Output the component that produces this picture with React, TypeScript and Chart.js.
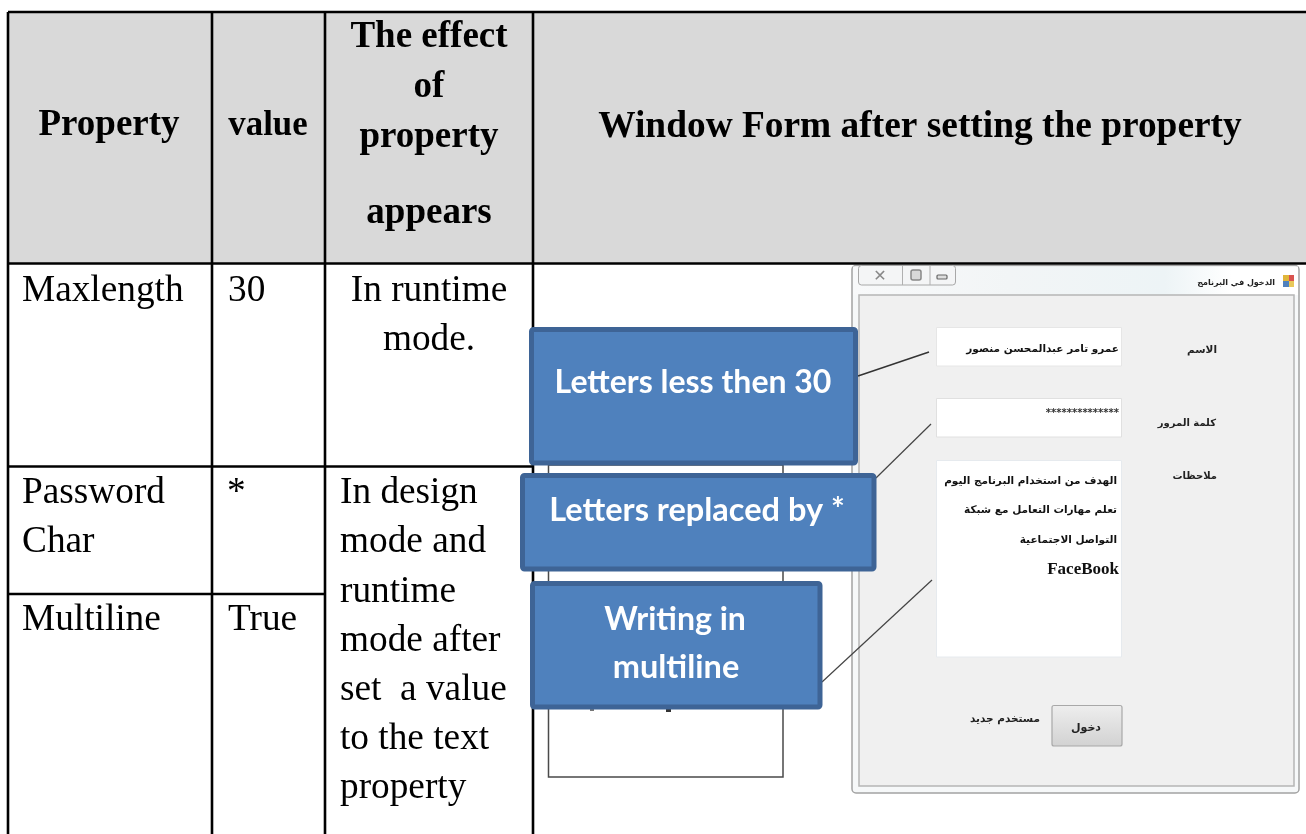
import React, { useEffect, useRef } from "react";
import { Chart, registerables } from "chart.js";

Chart.register(...registerables);

// ---- content ----
const headerProperty = "Property";
const headerValue = "value";
const headerEffect = ["The effect", "of", "property", "appears"];
const headerForm = "Window Form after setting the property";
const rowProperties = ["Maxlength", "Password", "Char", "Multiline"];
const rowValues = ["30", "*", "True"];
const effectRuntime = ["In runtime", "mode."];
const effectDesign = ["In design", "mode and", "runtime", "mode after", "set  a value", "to the text", "property"];
const calloutLabels = ["Letters less then 30", "Letters replaced by *", "Writing in", "multiline"];
const formTitle = "الدخول في البرنامج";
const formLabels = ["الاسم", "كلمة المرور", "ملاحظات"];
const formName = "عمرو تامر عبدالمحسن منصور";
const formPassword = "**************";
const formNotes = ["الهدف من استخدام البرنامج اليوم", "تعلم مهارات التعامل مع شبكة", "التواصل الاجتماعية", "FaceBook"];
const formNewUser = "مستخدم جديد";
const formLogin = "دخول";

const SERIF = '"Liberation Serif", serif';
const CALLOUT = 'Lato, "Open Sans", sans-serif';
const ARABIC = '"DejaVu Sans", sans-serif';

const tablePlugin = {
  id: "tablePlugin",
  afterDraw(chart: any) {
    const c: CanvasRenderingContext2D = chart.ctx;
    const X = (v: number) => chart.scales.x.getPixelForValue(v);
    const Y = (v: number) => chart.scales.y.getPixelForValue(v);

    const fillRect = (x0: number, y0: number, x1: number, y1: number, color: string) => {
      c.fillStyle = color;
      c.fillRect(X(x0), Y(y0), X(x1) - X(x0), Y(y1) - Y(y0));
    };
    const line = (x0: number, y0: number, x1: number, y1: number, color: string, w: number) => {
      c.strokeStyle = color;
      c.lineWidth = w;
      c.beginPath();
      c.moveTo(X(x0), Y(y0));
      c.lineTo(X(x1), Y(y1));
      c.stroke();
    };
    const box = (x0: number, y0: number, x1: number, y1: number, fill: any, stroke: string, w: number, r = 0) => {
      c.beginPath();
      c.roundRect(X(x0), Y(y0), X(x1) - X(x0), Y(y1) - Y(y0), r);
      c.fillStyle = fill;
      c.fill();
      c.strokeStyle = stroke;
      c.lineWidth = w;
      c.stroke();
    };
    const text = (
      s: string, x: number, y: number, font: string, color = "#000",
      align: CanvasTextAlign = "left", rtl = false,
    ) => {
      c.font = font;
      c.fillStyle = color;
      c.textAlign = align;
      c.textBaseline = "alphabetic";
      (c as any).direction = rtl ? "rtl" : "ltr";
      c.fillText(s, X(x), Y(y));
      (c as any).direction = "ltr";
    };

    c.save();

    // header band
    fillRect(8, 12, 1306, 263, "#d9d9d9");

    // underlying blank window frame
    box(548.5, 465, 783, 777, "#ffffff", "#4a4a4a", 1.5);
    fillRect(590, 709, 594, 711, "#777");
    fillRect(666, 709, 671, 712, "#333");

    // form window
    box(852, 265.5, 1299, 793, "#f6f8f9", "#a3a3a3", 1.5, 4);
    const titleGrad = c.createLinearGradient(X(852), 0, X(1299), 0);
    titleGrad.addColorStop(0, "#f8f9fa");
    titleGrad.addColorStop(0.35, "#f2f5f6");
    titleGrad.addColorStop(0.7, "#edf4f6");
    titleGrad.addColorStop(0.85, "#ffffff");
    titleGrad.addColorStop(1, "#ffffff");
    c.fillStyle = titleGrad;
    c.fillRect(X(853), Y(266.5), X(1298) - X(853), Y(295) - Y(266.5));
    box(859, 295, 1294, 786, "#f0f0f0", "#b5b5b5", 1.5);
    box(858.5, 265.5, 955.5, 285, "#f4f5f6", "#a8a8a8", 1, 3);
    line(902.5, 266, 902.5, 285, "#b0b0b0", 1);
    line(930, 266, 930, 285, "#b0b0b0", 1);
    text("✕", 880, 281, `bold 16px ${ARABIC}`, "#888", "center");
    box(911, 270, 921, 280, "#d8d8d8", "#888", 1.5, 2);
    box(937, 275, 947, 279, "#dddddd", "#666", 1.2, 1);
    fillRect(1283, 275, 1289, 281, "#e0b63a");
    fillRect(1289, 275, 1294, 281, "#d9534f");
    fillRect(1283, 281, 1289, 287, "#4f81bd");
    fillRect(1289, 281, 1294, 287, "#e8c85a");
    text(formTitle, 1275, 285, `bold 8px ${ARABIC}`, "#222", "right", true);

    // form fields
    box(936.5, 327.5, 1121.5, 366, "#ffffff", "#e6e6e6", 1);
    box(936.5, 398.5, 1121.5, 437, "#ffffff", "#e0e0e0", 1);
    box(936.5, 460.5, 1121.5, 657, "#ffffff", "#e6eaee", 1);
    text(formLabels[0], 1217, 353, `bold 10.5px ${ARABIC}`, "#222", "right", true);
    text(formLabels[1], 1216, 426, `bold 10px ${ARABIC}`, "#222", "right", true);
    text(formLabels[2], 1217, 479, `bold 10px ${ARABIC}`, "#222", "right", true);
    text(formName, 1119, 352, `bold 10.5px ${ARABIC}`, "#111", "right", true);
    text(formPassword, 1119, 415.5, `bold 10px ${ARABIC}`, "#333", "right");
    text(formNotes[0], 1117, 484, `bold 10.5px ${ARABIC}`, "#111", "right", true);
    text(formNotes[1], 1117, 513, `bold 10.5px ${ARABIC}`, "#111", "right", true);
    text(formNotes[2], 1117, 543, `bold 10.5px ${ARABIC}`, "#111", "right", true);
    text(formNotes[3], 1119, 574, `bold 17px ${SERIF}`, "#111", "right");
    text(formNewUser, 1040, 722, `bold 10.5px ${ARABIC}`, "#222", "right", true);
    const btnGrad = c.createLinearGradient(0, Y(705), 0, Y(746));
    btnGrad.addColorStop(0, "#eeeeee");
    btnGrad.addColorStop(1, "#d2d2d2");
    box(1052, 705.5, 1122, 746, btnGrad, "#a8a8a8", 1.2, 2);
    text(formLogin, 1086, 731, `bold 11px ${ARABIC}`, "#222", "center", true);

    // table rules
    const ruleColor = "#000";
    const rule = 2.6;
    line(8, 12, 1306, 12, ruleColor, rule);
    line(8, 263.5, 1306, 263.5, ruleColor, rule);
    for (const x of [8, 212, 325, 533]) {
      line(x, 12, x, 834, ruleColor, rule);
    }
    line(8, 466.5, 533, 466.5, ruleColor, rule);
    line(8, 594, 325, 594, ruleColor, rule);

    // leader lines
    line(858, 376, 929, 352, "#333", 1.5);
    line(876, 478, 931, 424, "#444", 1.2);
    line(822, 682, 932, 580, "#444", 1.2);

    // callouts
    const calloutFill = "#4f81bd";
    const calloutStroke = "#3e6496";
    box(531.5, 329.5, 855.5, 463, calloutFill, calloutStroke, 5, 2);
    box(522.5, 475.5, 874, 569, calloutFill, calloutStroke, 5, 2);
    box(532.5, 583.5, 820, 707, calloutFill, calloutStroke, 5, 2);
    text(calloutLabels[0], 693, 392.5, `bold 32px ${CALLOUT}`, "#fff", "center");
    text(calloutLabels[1], 697, 520.5, `bold 32.5px ${CALLOUT}`, "#fff", "center");
    text(calloutLabels[2], 675, 629.5, `bold 32px ${CALLOUT}`, "#fff", "center");
    text(calloutLabels[3], 676, 678, `bold 32.5px ${CALLOUT}`, "#fff", "center");

    // header text
    const hBold = `bold 37px ${SERIF}`;
    text(headerProperty, 109, 135, hBold, "#000", "center");
    text(headerValue, 268, 135, `bold 34.8px ${SERIF}`, "#000", "center");
    const effectBaselines = [47, 97, 147, 223];
    headerEffect.forEach((s, i) => text(s, 429, effectBaselines[i], hBold, "#000", "center"));
    text(headerForm, 920, 136.5, `bold 37.4px ${SERIF}`, "#000", "center");

    // body text
    const body = `37.3px ${SERIF}`;
    text(rowProperties[0], 22, 301, body);
    text(rowValues[0], 228, 301, body);
    text(effectRuntime[0], 429, 301, body, "#000", "center");
    text(effectRuntime[1], 429, 350, body, "#000", "center");
    text(rowProperties[1], 22, 503, body);
    text(rowProperties[2], 22, 552, body);
    text(rowValues[1], 227, 503, body);
    text(rowProperties[3], 22, 630, body);
    text(rowValues[2], 228, 630, body);
    const designBaselines = [503, 552, 602, 651, 700, 749, 798];
    effectDesign.forEach((s, i) => text(s, 340, designBaselines[i], body));

    c.restore();
  },
};

export default function App() {
  const ref = useRef<HTMLCanvasElement | null>(null);
  useEffect(() => {
    if (!ref.current) return;
    const chart = new Chart(ref.current, {
      type: "scatter",
      data: { datasets: [] },
      options: {
        animation: false,
        responsive: false,
        events: [],
        layout: { padding: 0 },
        plugins: { legend: { display: false }, title: { display: false }, tooltip: { enabled: false } },
        scales: {
          x: { type: "linear", min: 0, max: 1306, display: false },
          y: { type: "linear", min: 0, max: 834, reverse: true, display: false },
        },
      },
      plugins: [tablePlugin],
    } as any);
    return () => chart.destroy();
  }, []);
  return (
    <div style={{ position: "absolute", left: 0, top: 0, width: 1306, height: 834, background: "#fff", overflow: "hidden" }}>
      <canvas ref={ref} width={1306} height={834} style={{ display: "block" }} />
    </div>
  );
}
